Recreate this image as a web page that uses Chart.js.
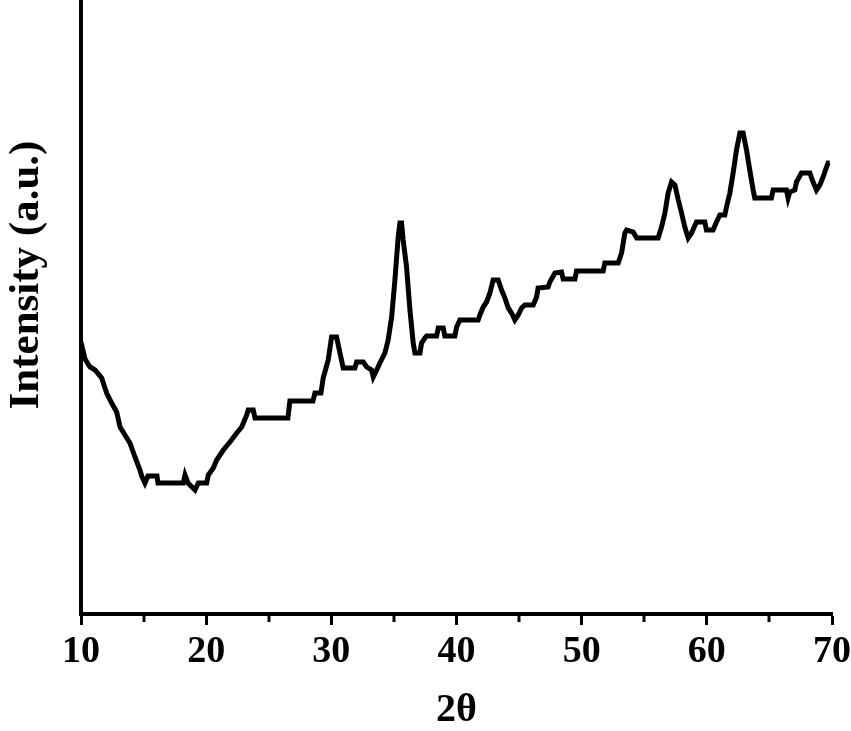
<!DOCTYPE html>
<html>
<head>
<meta charset="utf-8">
<script src="https://cdn.jsdelivr.net/npm/chart.js@4.4.0/dist/chart.umd.min.js"></script>
<style>
  html, body { margin: 0; padding: 0; background: #fff; }
  #wrap { width: 851px; height: 731px; }
</style>
</head>
<body>
<div id="wrap"><canvas id="xrd" width="851" height="731"></canvas></div>
<script>
// 2theta positions (deg) and intensity (a.u.)
const twoTheta = [
  10.00, 10.32, 10.72, 11.12, 11.65, 12.05, 12.45, 12.85, 13.12, 13.51,
  13.91, 14.31, 14.71, 14.85, 15.11, 15.35, 16.07, 16.15, 18.17, 18.31,
  18.55, 19.11, 19.37, 20.04, 20.17, 20.57, 20.84, 21.37, 21.90, 22.44,
  22.84, 23.24, 23.36, 23.76, 23.90, 26.53, 26.69, 28.53, 28.69, 29.17,
  29.35, 29.75, 30.02, 30.42, 30.69, 30.95, 31.88, 32.02, 32.55, 32.82,
  33.22, 33.35, 33.62, 33.88, 34.28, 34.54, 34.82, 35.08, 35.34, 35.48,
  35.61, 35.74, 36.01, 36.28, 36.54, 36.68, 37.08, 37.21, 37.48, 37.61,
  38.41, 38.54, 38.94, 39.07, 39.87, 40.01, 40.27, 41.73, 41.87, 42.13,
  42.40, 42.67, 42.93, 43.33, 43.60, 43.87, 44.13, 44.40, 44.66, 44.93,
  45.20, 45.46, 46.13, 46.40, 46.52, 47.32, 47.46, 47.86, 48.39, 48.52,
  49.46, 49.59, 51.72, 51.85, 52.92, 53.19, 53.45, 53.59, 54.12, 54.39,
  56.11, 56.38, 56.65, 56.91, 57.18, 57.45, 57.72, 57.98, 58.24, 58.51,
  58.78, 59.17, 59.84, 59.97, 60.50, 60.77, 61.04, 61.44, 61.57, 61.84,
  62.10, 62.37, 62.64, 62.90, 63.17, 63.43, 63.70, 63.83, 65.16, 65.30,
  66.36, 66.49, 66.63, 67.03, 67.16, 67.56, 68.23, 68.49, 68.76, 69.03,
  69.29, 69.56, 69.69, 69.82
];
const intensity = [
  272, 255, 247, 244, 236, 221, 211, 202, 187, 179,
  171, 157, 144, 138, 131, 138, 138, 131, 131, 139,
  131, 124, 131, 131, 139, 146, 154, 164, 172, 181,
  187, 199, 204, 204, 196, 196, 213, 213, 221, 221,
  236, 254, 277, 277, 261, 246, 246, 252, 252, 247,
  244, 237, 244, 251, 261, 274, 297, 334, 377, 391,
  391, 374, 347, 304, 271, 261, 261, 271, 276, 278,
  278, 286, 286, 278, 278, 287, 294, 294, 299, 307,
  312, 321, 334, 334, 324, 316, 306, 301, 294, 299,
  306, 309, 309, 317, 326, 327, 332, 341, 342, 335,
  335, 343, 343, 351, 351, 361, 381, 384, 382, 376,
  376, 387, 401, 421, 432, 429, 414, 401, 387, 376,
  381, 392, 392, 384, 384, 392, 399, 399, 407, 421,
  441, 464, 481, 481, 464, 444, 424, 416, 416, 424,
  424, 416, 422, 424, 432, 441, 441, 432, 424, 429,
  437, 447, 451, 451
];
const xTicks = [10, 20, 30, 40, 50, 60, 70];
const xMinorTicks = [15, 25, 35, 45, 55, 65];

const serif = "'Liberation Serif', 'Times New Roman', serif";
const points = twoTheta.map((t, i) => ({ x: t, y: intensity[i] }));

// minor ticks + the rotated y title
const extras = {
    id: 'extras',
    afterDraw(chart) {
        const ctx = chart.ctx;
        const xs = chart.scales.x;
        const area = chart.chartArea;
        ctx.save();
        ctx.strokeStyle = '#000';
        ctx.lineWidth = 3;
        xMinorTicks.forEach(v => {
            const px = Math.round(xs.getPixelForValue(v));
            ctx.beginPath();
            ctx.moveTo(px, area.bottom);
            ctx.lineTo(px, area.bottom + 8);
            ctx.stroke();
        });
        ctx.translate(27, 275);
        ctx.rotate(-Math.PI / 2);
        ctx.fillStyle = '#000';
        ctx.font = "bold 43px " + serif;
        ctx.textAlign = 'center';
        ctx.textBaseline = 'middle';
        ctx.fillText('Intensity (a.u.)', 0, 0);
        ctx.restore();
    }
};

new Chart(document.getElementById('xrd').getContext('2d'), {
    type: 'line',
    data: {
        datasets: [{
            data: points,
            borderColor: '#000',
            borderWidth: 5,
            pointRadius: 0,
            tension: 0,
            fill: false
        }]
    },
    options: {
        responsive: false,
        animation: false,
        layout: { padding: 0 },
        plugins: {
            legend: { display: false },
            tooltip: { enabled: false }
        },
        scales: {
            x: {
                type: 'linear',
                min: 10,
                max: 70,
                afterBuildTicks: (s) => { s.ticks = xTicks.map(v => ({ value: v })); },
                afterFit: (s) => { s.height = 117; s.paddingRight = 19; },
                grid: { display: true, drawOnChartArea: false, tickLength: 11, tickWidth: 3, tickColor: '#000' },
                border: { display: true, color: '#000', width: 4 },
                ticks: {
                    color: '#000',
                    padding: 4,
                    maxRotation: 0,
                    font: { family: serif, size: 38, weight: 'bold' }
                },
                title: {
                    display: true,
                    text: '2θ',
                    color: '#000',
                    padding: { top: 0, bottom: 0 },
                    font: { family: serif, size: 40, weight: 'bold', lineHeight: 1.0 }
                }
            },
            y: {
                min: 0,
                max: 614,
                afterFit: (s) => { s.width = 81; },
                grid: { display: false },
                border: { display: true, color: '#000', width: 4 },
                ticks: { display: false },
                title: { display: false }
            }
        }
    },
    plugins: [extras]
});
</script>
</body>
</html>
